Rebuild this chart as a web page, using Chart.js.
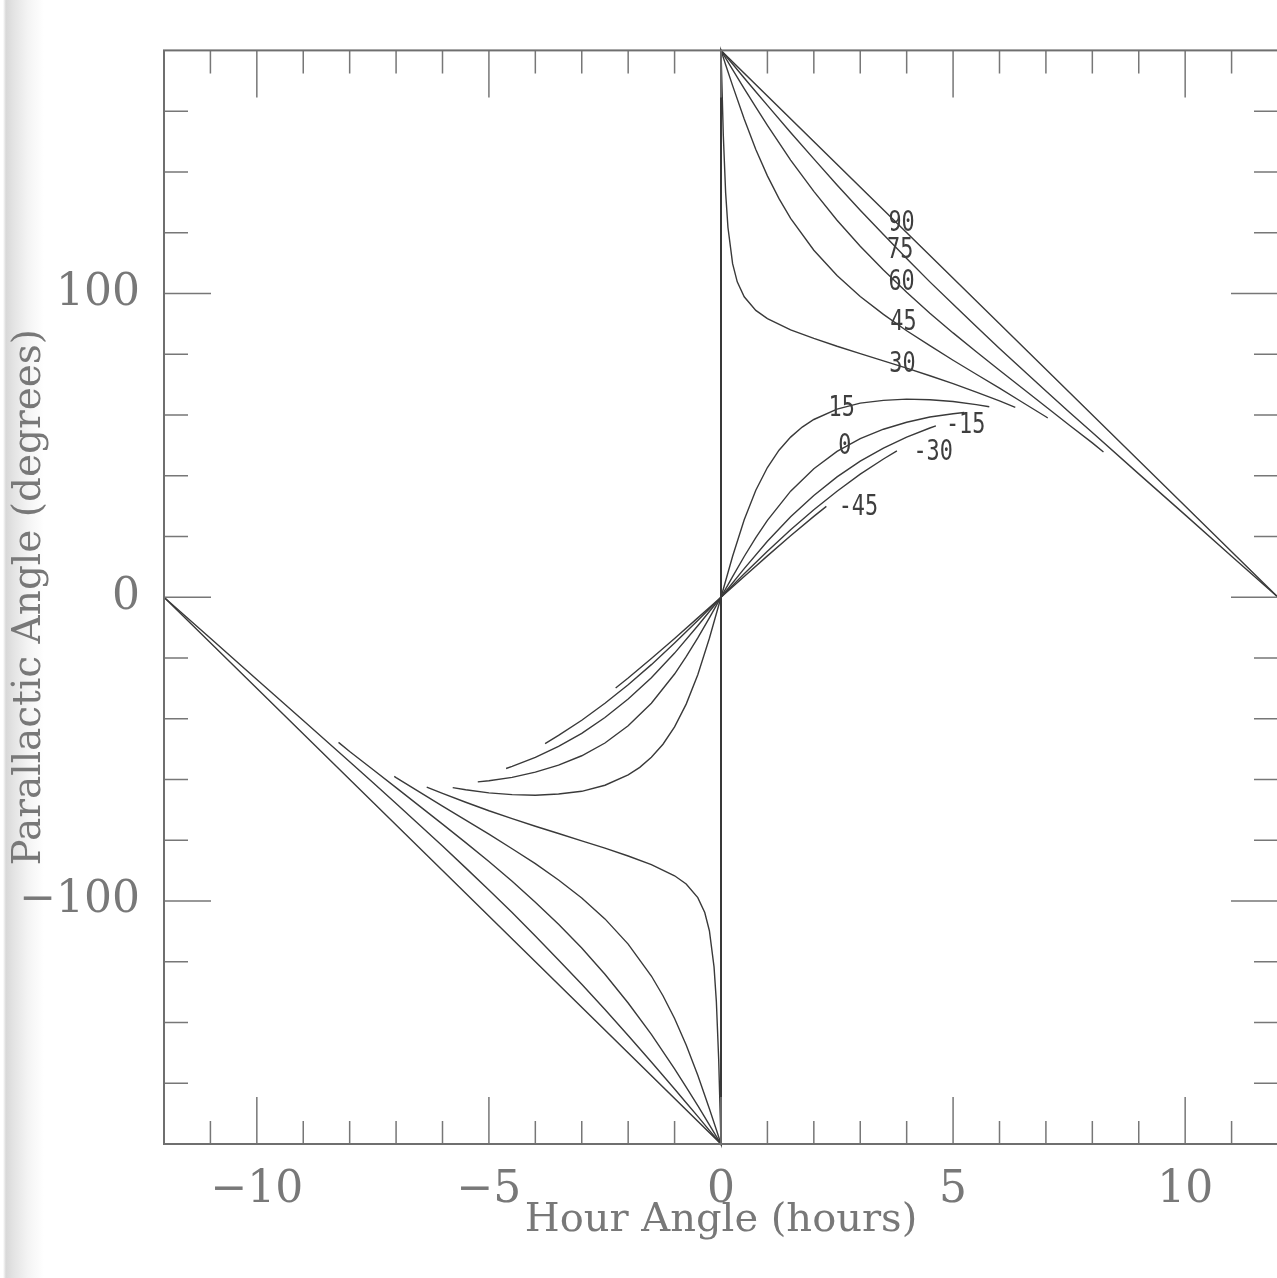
<!DOCTYPE html>
<html><head><meta charset="utf-8">
<script src="https://cdn.jsdelivr.net/npm/chart.js@4.4.1/dist/chart.umd.min.js"></script>
<style>
html,body{margin:0;padding:0;width:1277px;height:1278px;overflow:hidden;}
body{background:linear-gradient(to right,#fff 0,#fff 3px,#d8d8d8 6px,#e3e3e3 13px,#f4f4f4 28px,#fff 44px);}
#wrap{position:absolute;left:0;top:0;width:1298px;height:1278px;}
</style></head><body>
<div id="wrap"><canvas id="c" width="1298" height="1278"></canvas></div>
<script>
// Declinations (degrees) of the plotted tracks
const declinations = ['90','75','60','45','30','15','0','-15','-30','-45'];

// [hour angle (h), parallactic angle (deg)]
const curve90 = [[-12,0],[-6,-90],[0,-180],[0,180],[6,90],[12,0]];
const curve75 = [[-12,0],[-11,-13.5],[-10,-27.1],[-9,-40.6],[-8,-54.2],[-7.5,-61.0],[-7,-67.9],[-6.5,-74.9],[-6,-81.9],[-5.5,-89.1],[-5,-96.4],[-4.5,-103.8],[-4,-111.5],[-3.5,-119.4],[-3,-127.4],[-2.5,-135.7],[-2,-144.3],[-1.5,-153.0],[-1,-161.9],[-0.75,-166.4],[-0.5,-170.9],[-0.25,-175.5],[0,-180],
  [0,180],[0.25,175.5],[0.5,170.9],[0.75,166.4],[1,161.9],[1.5,153.0],[2,144.3],[2.5,135.7],[3,127.4],[3.5,119.4],[4,111.5],[4.5,103.8],[5,96.4],[5.5,89.1],[6,81.9],[6.5,74.9],[7,67.9],[7.5,61.0],[8,54.2],[9,40.6],[10,27.1],[11,13.5],[12,0]];
const curve60 = [[-8.24,-47.8],[-8,-50.8],[-7.5,-56.7],[-7,-62.7],[-6.5,-68.7],[-6,-74.7],[-5.5,-80.8],[-5,-87.0],[-4.5,-93.5],[-4,-100.4],[-3.5,-107.7],[-3,-115.5],[-2.5,-124.1],[-2,-133.6],[-1.5,-143.9],[-1,-155.3],[-0.75,-161.3],[-0.5,-167.4],[-0.25,-173.7],[0,-180],
  [0,180],[0.25,173.7],[0.5,167.4],[0.75,161.3],[1,155.3],[1.5,143.9],[2,133.6],[2.5,124.1],[3,115.5],[3.5,107.7],[4,100.4],[4.5,93.5],[5,87.0],[5.5,80.8],[6,74.7],[6.5,68.7],[7,62.7],[7.5,56.7],[8,50.8],[8.24,47.8]];
const curve45 = [[-7.04,-59.0],[-7,-59.4],[-6.5,-64.1],[-6,-68.8],[-5.5,-73.4],[-5,-78.0],[-4.5,-82.8],[-4,-87.7],[-3.5,-93.1],[-3,-99.0],[-2.5,-105.9],[-2,-114.2],[-1.5,-124.7],[-1.25,-131.2],[-1,-138.7],[-0.75,-147.4],[-0.5,-157.4],[-0.25,-168.4],[-0.1,-175.3],[0,-180],
  [0,180],[0.1,175.3],[0.25,168.4],[0.5,157.4],[0.75,147.4],[1,138.7],[1.25,131.2],[1.5,124.7],[2,114.2],[2.5,105.9],[3,99.0],[3.5,93.1],[4,87.7],[4.5,82.8],[5,78.0],[5.5,73.4],[6,68.8],[6.5,64.1],[7,59.4],[7.04,59.0]];
const curve30 = [[-6.34,-62.5],[-6,-64.6],[-5.5,-67.5],[-5,-70.3],[-4.5,-72.9],[-4,-75.4],[-3.5,-77.8],[-3,-80.2],[-2.5,-82.6],[-2,-85.2],[-1.5,-88.0],[-1,-91.7],[-0.75,-94.4],[-0.5,-98.9],[-0.35,-103.8],[-0.25,-109.8],[-0.15,-121.7],[-0.1,-133.1],[-0.05,-152.0],[0,-180],
  [0,180],[0.05,152.0],[0.1,133.1],[0.15,121.7],[0.25,109.8],[0.35,103.8],[0.5,98.9],[0.75,94.4],[1,91.7],[1.5,88.0],[2,85.2],[2.5,82.6],[3,80.2],[3.5,77.8],[4,75.4],[4.5,72.9],[5,70.3],[5.5,67.5],[6,64.6],[6.34,62.5]];
const curve15 = [[-5.78,-62.7],[-5.5,-63.4],[-5,-64.4],[-4.5,-65.0],[-4,-65.2],[-3.5,-64.8],[-3,-63.9],[-2.5,-61.9],[-2,-58.5],[-1.75,-56.0],[-1.5,-52.7],[-1.25,-48.4],[-1,-42.7],[-0.75,-35.2],[-0.5,-25.5],[-0.25,-13.5],[0,0],
  [0.25,13.5],[0.5,25.5],[0.75,35.2],[1,42.7],[1.25,48.4],[1.5,52.7],[1.75,56.0],[2,58.5],[2.5,61.9],[3,63.9],[3.5,64.8],[4,65.2],[4.5,65.0],[5,64.4],[5.5,63.4],[5.78,62.7]];
const curve0 = [[-5.24,-60.8],[-5,-60.4],[-4.5,-59.3],[-4,-57.6],[-3.5,-55.3],[-3,-52.2],[-2.5,-48.0],[-2,-42.3],[-1.5,-34.9],[-1,-25.3],[-0.75,-19.6],[-0.5,-13.4],[-0.25,-6.8],[0,0],
  [0.25,6.8],[0.5,13.4],[0.75,19.6],[1,25.3],[1.5,34.9],[2,42.3],[2.5,48.0],[3,52.2],[3.5,55.3],[4,57.6],[4.5,59.3],[5,60.4],[5.24,60.8]];
const curveM15 = [[-4.63,-56.4],[-4.5,-55.7],[-4,-52.7],[-3.5,-49.1],[-3,-44.8],[-2.5,-39.6],[-2,-33.5],[-1.5,-26.5],[-1,-18.4],[-0.5,-9.4],[0,0],
  [0.5,9.4],[1,18.4],[1.5,26.5],[2,33.5],[2.5,39.6],[3,44.8],[3.5,49.1],[4,52.7],[4.5,55.7],[4.63,56.4]];
const curveM30 = [[-3.79,-48.2],[-3.5,-45.5],[-3,-40.5],[-2.5,-34.9],[-2,-28.8],[-1.5,-22.2],[-1,-15.1],[-0.5,-7.7],[0,0],
  [0.5,7.7],[1,15.1],[1.5,22.2],[2,28.8],[2.5,34.9],[3,40.5],[3.5,45.5],[3.79,48.2]];
const curveM45 = [[-2.27,-29.9],[-2,-26.6],[-1.5,-20.2],[-1,-13.6],[-0.5,-6.8],[0,0],
  [0.5,6.8],[1,13.6],[1.5,20.2],[2,26.6],[2.27,29.9]];

const curves = [curve90, curve75, curve60, curve45, curve30, curve15, curve0, curveM15, curveM30, curveM45];

// Curve label anchors (data units)
const labelHour  = [3.89, 3.86, 3.89, 3.93, 3.91, 2.60, 2.67, 5.27, 4.57, 2.96];
const labelAngle = [122.9, 114.2, 103.5, 90.5, 76.5, 62.2, 49.5, 56.3, 47.7, 29.6];

// Labelled ticks
const xLabelHours = [-10, -5, 0, 5, 10];
const yLabelAngles = [-100, 0, 100];

const fmt = v => v < 0 ? '\u2212' + Math.abs(v) : String(v);
const TEXT = '#787878';

const framePlugin = {
  id: 'frame',
  afterDatasetsDraw(chart) {
    const {ctx, chartArea: a, scales: {x, y}} = chart;
    ctx.save();
    ctx.strokeStyle = '#777';
    ctx.lineWidth = 1.5;
    ctx.beginPath();
    x.ticks.forEach(t => {
      const v = t.value;
      if (v <= x.min || v >= x.max) return;
      const px = x.getPixelForValue(v);
      const len = xLabelHours.includes(v) ? 47 : 23;
      ctx.moveTo(px, a.top); ctx.lineTo(px, a.top + len);
      ctx.moveTo(px, a.bottom); ctx.lineTo(px, a.bottom - len);
    });
    y.ticks.forEach(t => {
      const v = t.value;
      if (v <= y.min || v >= y.max) return;
      const py = y.getPixelForValue(v);
      const len = yLabelAngles.includes(v) ? 47 : 24;
      ctx.moveTo(a.left, py); ctx.lineTo(a.left + len, py);
      ctx.moveTo(a.right, py); ctx.lineTo(a.right - len, py);
    });
    ctx.stroke();
    ctx.strokeStyle = '#6f6f6f';
    ctx.lineWidth = 2;
    ctx.strokeRect(a.left, a.top, a.right - a.left, a.bottom - a.top);

    ctx.fillStyle = '#3e3e3e';
    ctx.font = '28px "DejaVu Sans Mono"';
    ctx.textAlign = 'center';
    ctx.textBaseline = 'middle';
    declinations.forEach((s, i) => {
      const px = x.getPixelForValue(labelHour[i]);
      const py = y.getPixelForValue(labelAngle[i]);
      ctx.save();
      ctx.translate(px, py);
      ctx.scale(0.78, 1);
      ctx.fillText(s, 0, 0);
      ctx.restore();
    });
    ctx.restore();
  }
};

new Chart(document.getElementById('c'), {
  type: 'scatter',
  data: {
    datasets: curves.map((pts, i) => ({
      label: declinations[i],
      data: pts.map(p => ({x: p[0], y: p[1]})),
      showLine: true,
      borderColor: '#3a3a3a',
      borderWidth: 1.4,
      pointRadius: 0,
      pointHoverRadius: 0,
      tension: 0,
      fill: false,
      clip: 6
    }))
  },
  options: {
    responsive: false,
    animation: false,
    devicePixelRatio: 1,
    layout: {padding: {left: 0, top: 50, right: 0, bottom: 0}},
    plugins: {legend: {display: false}, tooltip: {enabled: false}},
    scales: {
      x: {
        type: 'linear', min: -12, max: 12,
        afterFit(s) { s.height = 134; },
        grid: {display: false, drawTicks: false},
        border: {display: false},
        ticks: {
          stepSize: 1, autoSkip: false, maxRotation: 0, minRotation: 0, padding: 20,
          color: TEXT, font: {family: 'DejaVu Serif', size: 44},
          callback: v => xLabelHours.includes(v) ? fmt(v) : ''
        },
        title: {display: true, text: 'Hour Angle (hours)', color: TEXT,
          font: {family: 'DejaVu Serif', size: 40}, padding: {top: 0, bottom: 33}}
      },
      y: {
        type: 'linear', min: -180, max: 180,
        afterFit(s) { s.width = 164; },
        grid: {display: false, drawTicks: false},
        border: {display: false},
        ticks: {
          stepSize: 20, autoSkip: false, padding: 24,
          color: TEXT, font: {family: 'DejaVu Serif', size: 44},
          callback: v => yLabelAngles.includes(v) ? fmt(v) : ''
        },
        title: {display: true, text: 'Parallactic Angle (degrees)', color: TEXT,
          font: {family: 'DejaVu Serif', size: 39}, padding: {top: 6, bottom: 0}}
      }
    }
  },
  plugins: [framePlugin]
});
</script></body></html>
